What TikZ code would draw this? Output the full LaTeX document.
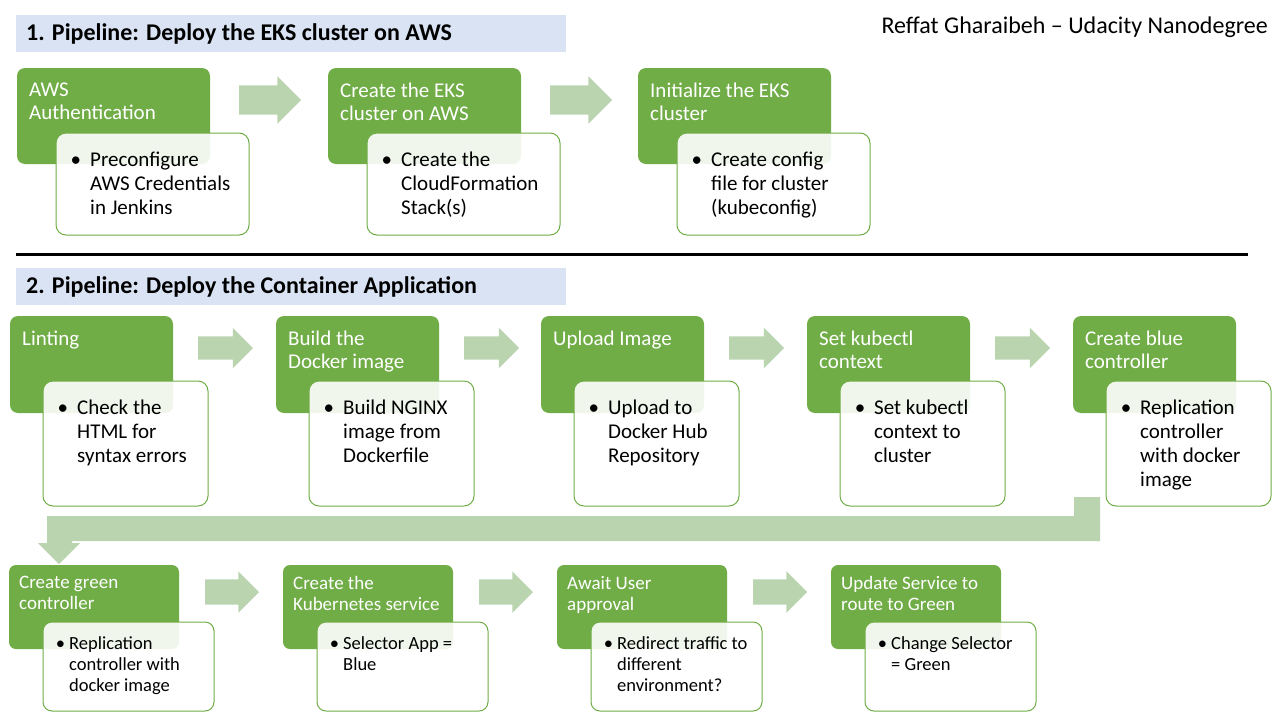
\documentclass[tikz,border=0pt]{standalone}
\usepackage{fontspec}
\setmainfont{Carlito}
\usetikzlibrary{calc,positioning,shapes.arrows}
\definecolor{stagegreen}{HTML}{70AD47}
\definecolor{flowgreen}{HTML}{BBD4B0}
\definecolor{bandblue}{HTML}{DAE3F3}
\newcommand{\bul}[1][9pt]{\llap{\textbullet\hspace{#1}}}

\begin{document}
\begin{tikzpicture}[
  x=1pt, y=-1pt,
  line join=round,
  band/.style={fill=bandblue, anchor=north west, inner sep=0pt, outer sep=0pt, minimum width=550pt, minimum height=37pt},
  bandtext/.style={anchor=west, inner sep=0pt, font=\fontsize{24}{28}\selectfont\bfseries},
  stage/.style={fill=stagegreen, rounded corners=8pt, anchor=north west, inner sep=0pt, outer sep=0pt, minimum width=163pt, minimum height=97pt},
  stagetext/.style={anchor=north west, inner sep=0pt, align=left, text=white, font=\fontsize{21}{23}\selectfont},
  detail/.style={draw=stagegreen, line width=1pt, fill=white, fill opacity=0.9, rounded corners=10pt, anchor=north west, inner sep=0pt, outer sep=0pt, minimum width=165pt, minimum height=125pt},
  detailtext/.style={anchor=north west, inner sep=0pt, align=left, font=\fontsize{21}{24}\selectfont},
  flow/.style={single arrow, fill=flowgreen, anchor=tail, inner xsep=0pt, outer sep=0pt, minimum width=0pt, shape border rotate=0}
]
  \useasboundingbox (0,0) rectangle (1280,720);

  % heading and author
  \node[band] (band1) at (16,15) {};
  \node[bandtext] (title1) at ($(band1.west)+(10,0)$) {1. Pipeline: Deploy the EKS cluster on AWS};
  \node[anchor=east, inner sep=0pt, font=\fontsize{24}{28}\selectfont] (author) at (1268,27) {Reffat Gharaibeh -- Udacity Nanodegree};

  % pipeline 1
  \node[stage, minimum width=193pt, minimum height=96pt] (g11) at (17,68) {};
  \node[stage, minimum width=193pt, minimum height=96pt, right=118pt of g11] (g12) {};
  \node[stage, minimum width=193pt, minimum height=96pt, right=117pt of g12] (g13) {};
  \node[detail, minimum width=193pt, minimum height=102pt] (w11) at ($(g11.north west)+(39,65)$) {};
  \node[detail, minimum width=193pt, minimum height=102pt] (w12) at ($(g12.north west)+(39,65)$) {};
  \node[detail, minimum width=193pt, minimum height=102pt] (w13) at ($(g13.north west)+(39,65)$) {};
  \node[stagetext] (t11) at ($(g11.north west)+(12,15)$) {AWS\\Authentication};
  \node[stagetext] (t12) at ($(g12.north west)+(12,15)$) {Create the EKS\\cluster on AWS};
  \node[stagetext] (t13) at ($(g13.north west)+(12,15)$) {Initialize the EKS\\cluster};
  \node[detailtext] (d11) at ($(w11.north west)+(34,19)$) {\bul Preconfigure\\AWS Credentials\\in Jenkins};
  \node[detailtext] (d12) at ($(w12.north west)+(34,19)$) {\bul Create the\\CloudFormation\\Stack(s)};
  \node[detailtext] (d13) at ($(w13.north west)+(34,19)$) {\bul Create config\\file for cluster\\(kubeconfig)};
  \node[flow, inner ysep=14.5pt, single arrow head extend=9pt, minimum height=62pt] (a11) at ($(g11.north east)+(29,32)$) {};
  \node[flow, inner ysep=14.5pt, single arrow head extend=9pt, minimum height=62pt] (a12) at ($(g12.north east)+(29,32)$) {};

  \draw[line width=3pt] (16,254) -- (1248,254);

  % pipeline 2
  \node[band] (band2) at (16,268) {};
  \node[bandtext] (title2) at ($(band2.west)+(10,0)$) {2. Pipeline: Deploy the Container Application};

  \node[stage] (g21) at (10,316) {};
  \node[stage, right=103pt of g21] (g22) {};
  \node[stage, right=102pt of g22] (g23) {};
  \node[stage, right=103pt of g23] (g24) {};
  \node[stage, right=103pt of g24] (g25) {};
  \node[detail] (w21) at ($(g21.north west)+(33,65)$) {};
  \node[detail] (w22) at ($(g22.north west)+(33,65)$) {};
  \node[detail] (w23) at ($(g23.north west)+(33,65)$) {};
  \node[detail] (w24) at ($(g24.north west)+(33,65)$) {};
  \node[detail] (w25) at ($(g25.north west)+(33,65)$) {};
  \node[stagetext] (t21) at ($(g21.north west)+(12,15)$) {Linting};
  \node[stagetext] (t22) at ($(g22.north west)+(12,15)$) {Build the\\Docker image};
  \node[stagetext] (t23) at ($(g23.north west)+(12,15)$) {Upload Image};
  \node[stagetext] (t24) at ($(g24.north west)+(12,15)$) {Set kubectl\\context};
  \node[stagetext] (t25) at ($(g25.north west)+(12,15)$) {Create blue\\controller};
  \node[detailtext] (d21) at ($(w21.north west)+(34,19)$) {\bul Check the\\HTML for\\syntax errors};
  \node[detailtext] (d22) at ($(w22.north west)+(34,19)$) {\bul Build NGINX\\image from\\Dockerfile};
  \node[detailtext] (d23) at ($(w23.north west)+(34,19)$) {\bul Upload to\\Docker Hub\\Repository};
  \node[detailtext] (d24) at ($(w24.north west)+(34,19)$) {\bul Set kubectl\\context to\\cluster};
  \node[detailtext] (d25) at ($(w25.north west)+(34,19)$) {\bul Replication\\controller\\with docker\\image};
  \node[flow, inner ysep=11.5pt, single arrow head extend=8.5pt, minimum height=55pt] (a21) at ($(g21.north east)+(25,32)$) {};
  \node[flow, inner ysep=11.5pt, single arrow head extend=8.5pt, minimum height=55pt] (a22) at ($(g22.north east)+(25,32)$) {};
  \node[flow, inner ysep=11.5pt, single arrow head extend=8.5pt, minimum height=55pt] (a23) at ($(g23.north east)+(25,32)$) {};
  \node[flow, inner ysep=11.5pt, single arrow head extend=8.5pt, minimum height=55pt] (a24) at ($(g24.north east)+(25,32)$) {};

  % turn from blue controller down to green controller
  \fill[flowgreen] (1100,497) -- (1100,541) -- (72,541) -- (72,543) -- (80,543) -- (59,564)
    -- (38,543) -- (47,543) -- (47,516) -- (1074,516) -- (1074,497) -- cycle;

  % pipeline 2, second row
  \node[stage, minimum width=170pt, minimum height=84pt, rounded corners=7pt] (g31) at (9,565) {};
  \node[stage, minimum width=170pt, minimum height=84pt, rounded corners=7pt, right=104pt of g31] (g32) {};
  \node[stage, minimum width=170pt, minimum height=84pt, rounded corners=7pt, right=104pt of g32] (g33) {};
  \node[stage, minimum width=170pt, minimum height=84pt, rounded corners=7pt, right=104pt of g33] (g34) {};
  \node[detail, minimum width=171pt, minimum height=89pt, rounded corners=9pt] (w31) at ($(g31.north west)+(34,57)$) {};
  \node[detail, minimum width=171pt, minimum height=89pt, rounded corners=9pt] (w32) at ($(g32.north west)+(34,57)$) {};
  \node[detail, minimum width=171pt, minimum height=89pt, rounded corners=9pt] (w33) at ($(g33.north west)+(34,57)$) {};
  \node[detail, minimum width=171pt, minimum height=89pt, rounded corners=9pt] (w34) at ($(g34.north west)+(34,57)$) {};
  \node[stagetext, font=\fontsize{19}{21}\selectfont] (t31) at ($(g31.north west)+(10,11)$) {Create green\\controller};
  \node[stagetext, font=\fontsize{19}{21}\selectfont] (t32) at ($(g32.north west)+(10,11)$) {Create the\\Kubernetes service};
  \node[stagetext, font=\fontsize{19}{21}\selectfont] (t33) at ($(g33.north west)+(10,11)$) {Await User\\approval};
  \node[stagetext, font=\fontsize{19}{21}\selectfont] (t34) at ($(g34.north west)+(10,11)$) {Update Service to\\route to Green};
  \node[detailtext, font=\fontsize{18.5}{21}\selectfont] (d31) at ($(w31.north west)+(26,14)$) {\bul[4pt]Replication\\controller with\\docker image};
  \node[detailtext, font=\fontsize{18.5}{21}\selectfont] (d32) at ($(w32.north west)+(26,14)$) {\bul[4pt]Selector App =\\Blue};
  \node[detailtext, font=\fontsize{18.5}{21}\selectfont] (d33) at ($(w33.north west)+(26,14)$) {\bul[4pt]Redirect traffic to\\different\\environment?};
  \node[detailtext, font=\fontsize{18.5}{21}\selectfont] (d34) at ($(w34.north west)+(26,14)$) {\bul[4pt]Change Selector\\= Green};
  \node[flow, inner ysep=12.5pt, single arrow head extend=8pt, minimum height=54pt] (a31) at ($(g31.north east)+(26,27)$) {};
  \node[flow, inner ysep=12.5pt, single arrow head extend=8pt, minimum height=54pt] (a32) at ($(g32.north east)+(26,27)$) {};
  \node[flow, inner ysep=12.5pt, single arrow head extend=8pt, minimum height=54pt] (a33) at ($(g33.north east)+(26,27)$) {};
\end{tikzpicture}
\end{document}
